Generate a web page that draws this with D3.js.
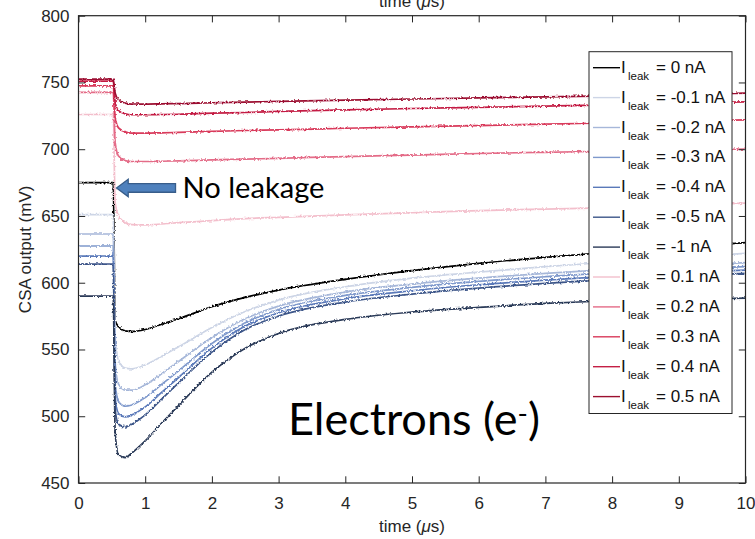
<!DOCTYPE html>
<html>
<head>
<meta charset="utf-8">
<script src="https://cdn.jsdelivr.net/npm/d3@7"></script>
<style>
  body { margin: 0; background: #fff; }
  svg { display: block; }
</style>
</head>
<body>
<svg id="chart" width="755" height="539"></svg>
<script>
// Sample times (µs) shared by every trace
const timeUs = [0, 0.5, 0.52, 0.55, 0.6, 0.7, 0.8, 1.0, 1.25, 1.5, 2.0, 2.5, 3, 4, 5, 6, 7, 8, 9, 10];

// CSA output (mV) for each leakage current
const leak0    = [675, 675, 675, 572, 567, 564, 563.5, 565, 569, 573, 582, 589, 594.5, 602.5, 609, 614.5, 619, 623, 626.5, 630];
const leakM0p1 = [651, 651, 651, 560, 542, 536, 535.5, 538.5, 545, 552, 566.5, 578.5, 587, 597, 603.5, 608, 612, 615.5, 619, 622];
const leakM0p2 = [636.5, 636.5, 636.5, 540, 524, 519.5, 519.5, 523.5, 532, 541, 559, 573, 582.5, 593, 599, 603.5, 607, 610, 612.5, 615];
const leakM0p3 = [627.5, 627.5, 627.5, 525, 511, 507.5, 508.5, 514, 524, 534, 554.5, 570, 580, 590.5, 596.5, 601, 604.5, 607.5, 610, 612];
const leakM0p4 = [620, 620, 620, 514, 502, 499.5, 501, 507, 518, 529, 551, 567.5, 577.5, 588, 594, 598.5, 602, 605, 607.5, 609.5];
const leakM0p5 = [614, 614, 614, 505, 494, 492, 494, 501, 513, 525, 548, 565, 575, 585.5, 591.5, 596, 599.5, 602.5, 605, 607];
const leakM1   = [590, 590, 590, 488, 471, 469, 472.5, 481.5, 495, 508, 533, 551, 562, 572.5, 578, 581.5, 584.5, 586.5, 587.5, 588.5];
const leakP0p1 = [726, 726, 726, 660, 650, 645, 643.5, 643.3, 644, 645, 646.5, 648, 649, 650.8, 652.4, 654, 655.2, 656.3, 658, 659.6];
const leakP0p2 = [742.5, 742.5, 742.5, 705, 695, 691.5, 690.8, 690.8, 691, 691.3, 692, 692.6, 693.2, 694.5, 695.6, 696.8, 697.7, 698.6, 699.4, 700];
const leakP0p3 = [747.5, 747.5, 747.5, 724, 716, 713, 712, 712, 712.3, 712.6, 713.4, 714, 714.5, 715.7, 716.7, 717.7, 718.8, 719.7, 720.8, 722];
const leakP0p4 = [751, 751, 751, 735, 729, 726.5, 725.8, 725.8, 726, 726.2, 727, 727.5, 728.3, 729.5, 730.5, 731.3, 732.3, 733.2, 734.5, 735.5];
const leakP0p5 = [752.5, 752.5, 752.5, 742, 737, 734.5, 733.8, 733.8, 734, 734.2, 734.8, 735.3, 735.8, 736.8, 737.6, 738.4, 739.2, 740, 741, 742];

const seriesValues = [leak0, leakM0p1, leakM0p2, leakM0p3, leakM0p4, leakM0p5, leakM1,
                      leakP0p1, leakP0p2, leakP0p3, leakP0p4, leakP0p5];
const seriesLabels = ["0", "-0.1", "-0.2", "-0.3", "-0.4", "-0.5", "-1", "0.1", "0.2", "0.3", "0.4", "0.5"];
const seriesColors = ["#000000", "#cdd5e6", "#a6b7d9", "#7f99cc", "#5a79b9", "#3d5689", "#2b3a58",
                      "#f3bfcc", "#e46c88", "#d93a5b", "#c41f45", "#9c1030"];

const xTicks = [0, 1, 2, 3, 4, 5, 6, 7, 8, 9, 10];
const yTicks = [450, 500, 550, 600, 650, 700, 750, 800];

const svg = d3.select("#chart");
const x = d3.scaleLinear().domain([0, 10]).range([78.5, 745.5]);
const y = d3.scaleLinear().domain([450, 800]).range([483, 15.7]);
const [x0, x1] = x.range();
const [yb, yt] = y.range();
const axisColor = "#262626";
const tickLen = 6.7;

// Clip region and a slight jitter texture for the measured traces
const defs = svg.append("defs");
defs.append("clipPath").attr("id", "plotClip")
  .append("rect").attr("x", x0).attr("y", yt).attr("width", x1 - x0).attr("height", yb - yt);
const jit = defs.append("filter").attr("id", "jitter")
  .attr("x", "-2%").attr("y", "-5%").attr("width", "104%").attr("height", "110%");
jit.append("feTurbulence").attr("type", "fractalNoise").attr("baseFrequency", "0.5")
  .attr("numOctaves", 2).attr("seed", 7).attr("result", "noise");
jit.append("feDisplacementMap").attr("in", "SourceGraphic").attr("in2", "noise")
  .attr("scale", 3.2).attr("xChannelSelector", "R").attr("yChannelSelector", "G");

// Traces
const line = d3.line().x((d, i) => x(timeUs[i])).y(d => y(d)).curve(d3.curveMonotoneX);
const traces = svg.append("g").attr("clip-path", "url(#plotClip)")
  .append("g").attr("filter", "url(#jitter)");
seriesValues.forEach((vals, k) => {
  traces.append("path").datum(vals)
    .attr("d", line).attr("fill", "none")
    .attr("stroke", seriesColors[k]).attr("stroke-width", 1.7)
    .attr("stroke-linejoin", "round");
});

// Axes (inward ticks on all four sides)
const labelFont = "'Liberation Sans', Arial, sans-serif";
function styleAxis(g) {
  g.select(".domain").remove();
  g.selectAll("line").attr("stroke", axisColor).attr("stroke-width", 1);
  g.selectAll("text").attr("font-size", 17).attr("fill", axisColor).attr("font-family", labelFont);
}
svg.append("g").attr("transform", `translate(0,${yb})`)
  .call(d3.axisBottom(x).tickValues(xTicks).tickSize(-tickLen).tickPadding(14).tickFormat(d3.format("d")))
  .call(styleAxis);
svg.append("g").attr("transform", `translate(0,${yt})`)
  .call(d3.axisTop(x).tickValues(xTicks).tickSize(-tickLen).tickFormat(""))
  .call(styleAxis);
svg.append("g").attr("transform", `translate(${x0},0)`)
  .call(d3.axisLeft(y).tickValues(yTicks).tickSize(-tickLen).tickPadding(9).tickFormat(d3.format("d")))
  .call(styleAxis);
svg.append("g").attr("transform", `translate(${x1},0)`)
  .call(d3.axisRight(y).tickValues(yTicks).tickSize(-tickLen).tickFormat(""))
  .call(styleAxis);
svg.append("rect").attr("x", x0).attr("y", yt).attr("width", x1 - x0).attr("height", yb - yt)
  .attr("fill", "none").attr("stroke", axisColor).attr("stroke-width", 1.2);

// Axis labels (the upper one belongs to the panel above and is cut by the frame)
function timeLabel(yPos) {
  const t = svg.append("text").attr("x", (x0 + x1) / 2).attr("y", yPos)
    .attr("text-anchor", "middle").attr("font-family", labelFont)
    .attr("font-size", 17).attr("fill", axisColor);
  t.append("tspan").text("time (");
  t.append("tspan").attr("font-style", "italic").text("\u03bc");
  t.append("tspan").text("s)");
}
timeLabel(532);
timeLabel(6.5);
svg.append("text").attr("transform", `translate(31,${(yt + yb) / 2}) rotate(-90)`)
  .attr("text-anchor", "middle").attr("font-family", labelFont)
  .attr("font-size", 17).attr("fill", axisColor).text("CSA output (mV)");

// Legend
const lg = svg.append("g");
const lgTop = 51.7, lgLeft = 589, lgW = 143, lgRow = 29.9;
lg.append("rect").attr("x", lgLeft).attr("y", lgTop).attr("width", lgW)
  .attr("height", lgRow * seriesLabels.length + 3)
  .attr("fill", "#fff").attr("stroke", axisColor).attr("stroke-width", 1);
seriesLabels.forEach((lab, k) => {
  const ry = lgTop + 16 + lgRow * k;
  lg.append("line").attr("x1", lgLeft + 4).attr("x2", lgLeft + 31).attr("y1", ry).attr("y2", ry)
    .attr("stroke", seriesColors[k]).attr("stroke-width", 1.4);
  lg.append("text").attr("x", lgLeft + 32).attr("y", ry + 5)
    .attr("font-family", labelFont).attr("font-size", 17).attr("fill", "#111").text("I");
  lg.append("text").attr("x", lgLeft + 39).attr("y", ry + 12)
    .attr("font-family", labelFont).attr("font-size", 11.5).attr("fill", "#111").text("leak");
  lg.append("text").attr("x", lgLeft + 67).attr("y", ry + 5)
    .attr("font-family", labelFont).attr("font-size", 17).attr("fill", "#111").text(`= ${lab} nA`);
});

// "No leakage" callout arrow pointing at the 0 nA baseline
const tipX = x(0.57), tipY = y(671);
const headL = 11.7, headH = 8.7, shaftH = 4.3, arrowL = 59;
const arrowPts = [
  [tipX, tipY], [tipX + headL, tipY - headH], [tipX + headL, tipY - shaftH],
  [tipX + arrowL, tipY - shaftH], [tipX + arrowL, tipY + shaftH],
  [tipX + headL, tipY + shaftH], [tipX + headL, tipY + headH]
];
svg.append("path").attr("d", d3.line()(arrowPts) + "Z")
  .attr("fill", "#4f81bd").attr("stroke", "#385d8a").attr("stroke-width", 1.3);

const calloutFont = "Lato, 'Open Sans', sans-serif";
function fitText(sel, width) {
  const w = sel.node().getComputedTextLength();
  const fs = parseFloat(sel.attr("font-size"));
  sel.attr("font-size", fs * width / w);
}
const noLeak = svg.append("text").attr("x", tipX + arrowL + 7).attr("y", tipY + 10.5)
  .attr("font-family", calloutFont).attr("font-size", 26).attr("fill", "#000").text("No leakage");
fitText(noLeak, 142);

const elec = svg.append("text").attr("x", 288).attr("y", 435)
  .attr("font-family", calloutFont).attr("font-size", 40).attr("fill", "#000");
elec.append("tspan").text("Electrons (e");
elec.append("tspan").attr("dy", "-0.42em").attr("font-size", "0.62em").text("-");
elec.append("tspan").attr("dy", "0.26em").text(")");
fitText(elec, 252);
</script>
</body>
</html>
